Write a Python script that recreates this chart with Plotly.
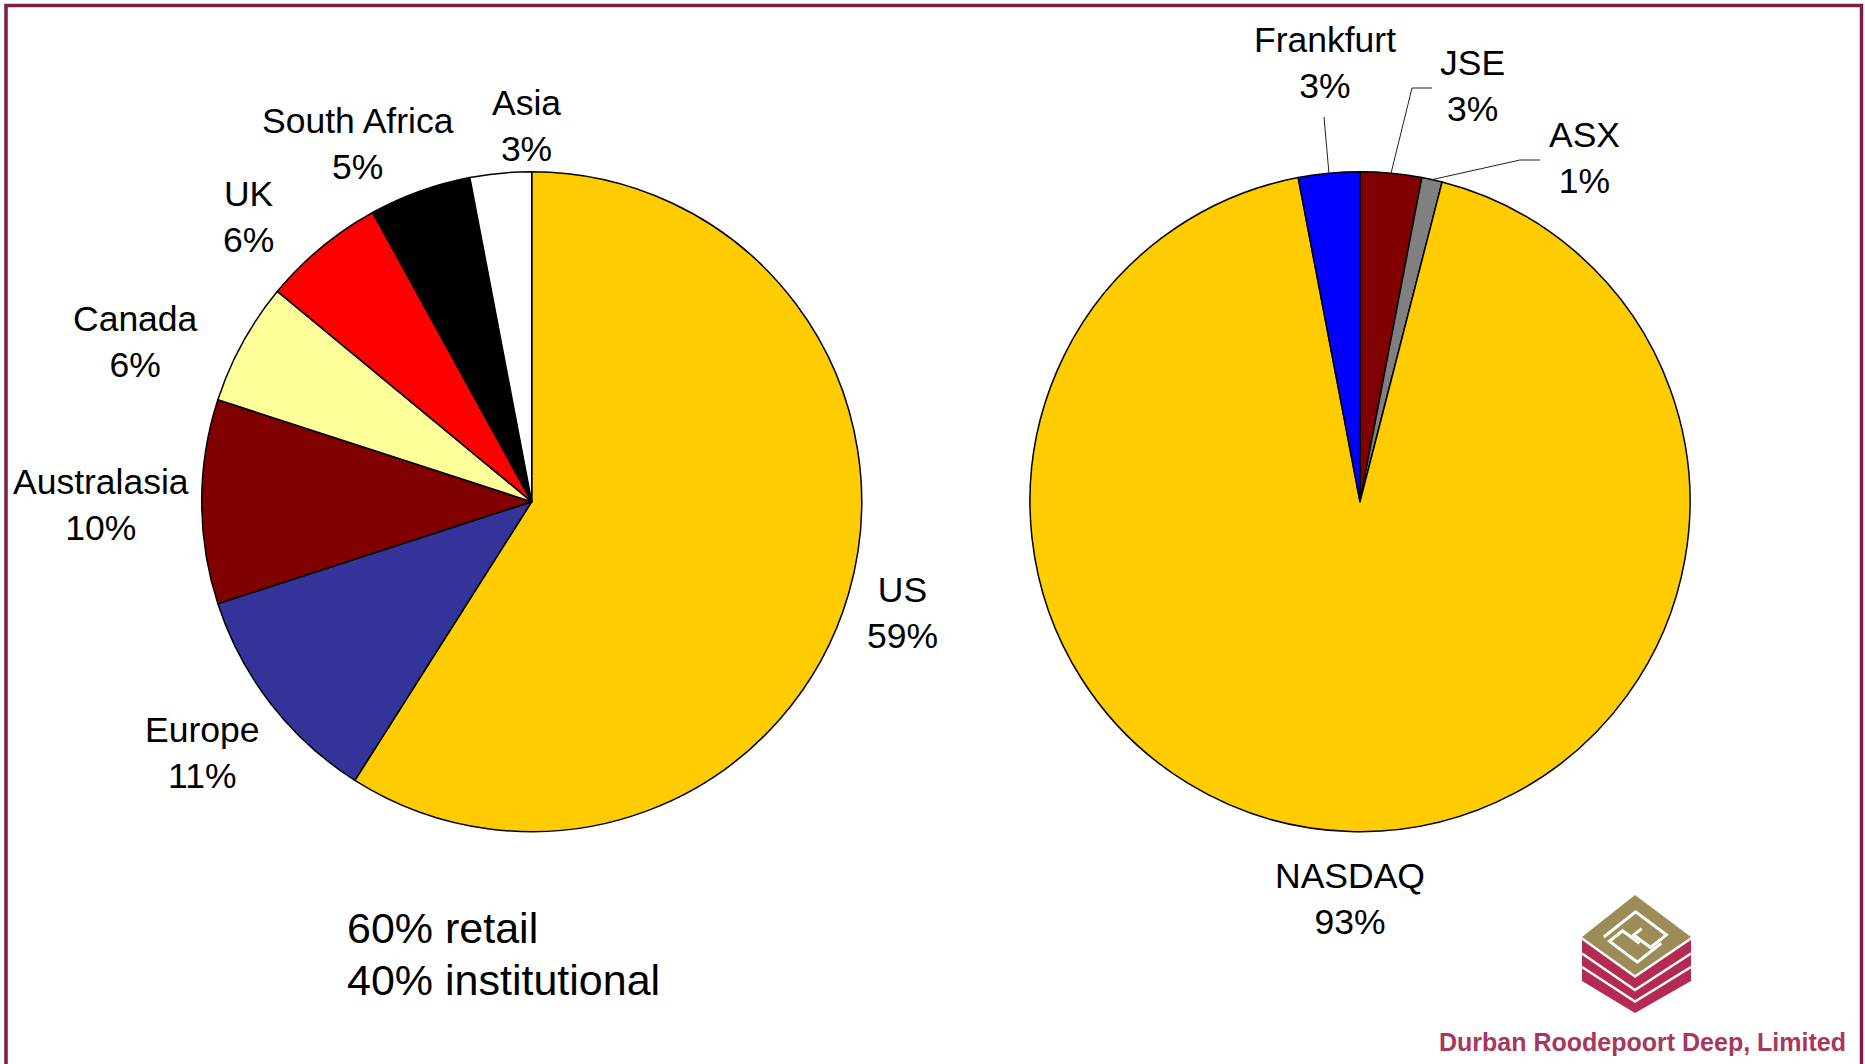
import math
import plotly.graph_objects as go

# ---------------- data ----------------
regions = ["US", "Europe", "Australasia", "Canada", "UK", "South Africa", "Asia"]
region_share = [59, 11, 10, 6, 6, 5, 3]
region_colors = ["#FFCC00", "#333399", "#800000", "#FFFF99", "#FF0000", "#000000", "#FFFFFF"]

exchanges = ["JSE", "ASX", "NASDAQ", "Frankfurt"]
exchange_share = [3, 1, 93, 3]
exchange_colors = ["#800000", "#808080", "#FFCC00", "#0000FF"]

notes = ["60% retail", "40% institutional"]
company = "Durban Roodepoort Deep, Limited"

# ---------------- layout constants (pixels) ----------------
W, H = 1865, 1064
R = 330
C1 = (531.7, 501.7)
C2 = (1360.0, 501.7)
FS = 35.5

def X(x):
    return x / W

def Y(y):
    return 1 - y / H

# label block centers (px)
region_label_pos = {
    "US": (902, 613), "Europe": (202, 753), "Australasia": (101, 505),
    "Canada": (135, 342), "UK": (248, 217), "South Africa": (358, 143.5),
    "Asia": (526, 126),
}
exchange_label_pos = {
    "JSE": (1472, 86), "ASX": (1584, 158), "NASDAQ": (1350, 899),
    "Frankfurt": (1325, 63),
}
# leader line path points after the slice-edge start (px)
leaders = {
    "Frankfurt": [(1324, 117)],
    "JSE": [(1412, 88), (1432, 88)],
    "ASX": [(1520, 160), (1540, 160)],
}

fig = go.Figure()

def domain_for(c):
    return dict(x=[X(c[0] - R), X(c[0] + R)], y=[Y(c[1] + R), Y(c[1] - R)])

fig.add_trace(go.Pie(
    labels=regions, values=region_share, sort=False, direction="clockwise",
    rotation=0, textinfo="none", showlegend=False,
    marker=dict(colors=region_colors, line=dict(color="black", width=1.5)),
    domain=domain_for(C1),
))
fig.add_trace(go.Pie(
    labels=exchanges, values=exchange_share, sort=False, direction="clockwise",
    rotation=0, textinfo="none", showlegend=False,
    marker=dict(colors=exchange_colors, line=dict(color="black", width=1.5)),
    domain=domain_for(C2),
))

annotations = []
font = dict(family="Liberation Sans, Arial, sans-serif", size=FS, color="black")
for name, v in zip(regions, region_share):
    x, y = region_label_pos[name]
    annotations.append(dict(x=X(x), y=Y(y), xref="paper", yref="paper",
                            text=f"{name}<br>{v}%", showarrow=False,
                            xanchor="center", yanchor="middle", font=font))
for name, v in zip(exchanges, exchange_share):
    x, y = exchange_label_pos[name]
    annotations.append(dict(x=X(x), y=Y(y), xref="paper", yref="paper",
                            text=f"{name}<br>{v}%", showarrow=False,
                            xanchor="center", yanchor="middle", font=font))

# notes
nfs = 43
for i, t in enumerate(notes):
    base = 943 + i * 52
    annotations.append(dict(x=X(345), y=Y(base - 0.35 * nfs), xref="paper", yref="paper",
                            text=t, showarrow=False, xanchor="left", yanchor="middle",
                            font=dict(family="Liberation Sans, Arial, sans-serif", size=nfs, color="black")))

# company name
annotations.append(dict(x=X(1642), y=Y(1042), xref="paper", yref="paper", text=f"<b>{company}</b>",
                        showarrow=False, xanchor="center", yanchor="middle",
                        font=dict(family="Liberation Sans, Arial, sans-serif", size=25, color="#A8375C")))

shapes = []
# border
shapes.append(dict(type="path", xref="paper", yref="paper",
                   path=f"M {X(6)},{Y(1070)} L {X(6)},{Y(5.5)} L {X(1861.5)},{Y(5.5)} L {X(1861.5)},{Y(1070)}",
                   line=dict(color="#7B1C45", width=3.5)))

# leader lines for small exchange slices
cum = 0
for name, v in zip(exchanges, exchange_share):
    mid = (cum + v / 2) / sum(exchange_share) * 2 * math.pi
    cum += v
    if name in leaders:
        sx = C2[0] + R * math.sin(mid)
        sy = C2[1] - R * math.cos(mid)
        pts = [(sx, sy)] + leaders[name]
        path = "M " + " L ".join(f"{X(px)},{Y(py)}" for px, py in pts)
        shapes.append(dict(type="path", xref="paper", yref="paper", path=path,
                           line=dict(color="#222222", width=1)))

# logo
def poly(pts, fill, line_color=None, width=0, closed=True):
    p = "M " + " L ".join(f"{X(a)},{Y(b)}" for a, b in pts) + (" Z" if closed else "")
    d = dict(type="path", xref="paper", yref="paper", path=p)
    if closed:
        d["fillcolor"] = fill
        d["line"] = dict(width=0)
    else:
        d["line"] = dict(color=line_color, width=width)
    return d

gold = "#9C8C58"
crim = "#B42A52"
shapes.append(poly([(1582, 940), (1635, 978), (1691, 940), (1691, 981), (1635, 1013), (1582, 981)], crim))
shapes.append(poly([(1582, 953.5), (1635, 990), (1691, 953.5)], None, "white", 2.5, closed=False))
shapes.append(poly([(1582, 967), (1635, 1001.5), (1691, 967)], None, "white", 2.5, closed=False))
top, right, left = (1635, 895), (1691, 937), (1582, 937)
shapes.append(poly([top, right, (1635, 975), left], gold))

def P(u, v):
    return (top[0] + u * (right[0] - top[0]) + v * (left[0] - top[0]),
            top[1] + u * (right[1] - top[1]) + v * (left[1] - top[1]))

spiral1 = [P(0.2, 0.8), P(0.2, 0.2), P(0.75, 0.2), P(0.75, 0.5), P(0.45, 0.5), P(0.45, 0.35)]
spiral2 = [P(0.8, 0.35), P(0.8, 0.8), P(0.3, 0.8), P(0.3, 0.55), P(0.6, 0.55)]
shapes.append(poly(spiral1, None, "white", 3, closed=False))
shapes.append(poly(spiral2, None, "white", 3, closed=False))

fig.update_layout(
    width=W, height=H, margin=dict(l=0, r=0, t=0, b=0),
    paper_bgcolor="white", plot_bgcolor="white",
    annotations=annotations, shapes=shapes,
)

fig.write_html(
    "out.html",
    config={"displayModeBar": False},
    post_script="document.body.style.margin='0';document.body.style.overflow='hidden';",
)
